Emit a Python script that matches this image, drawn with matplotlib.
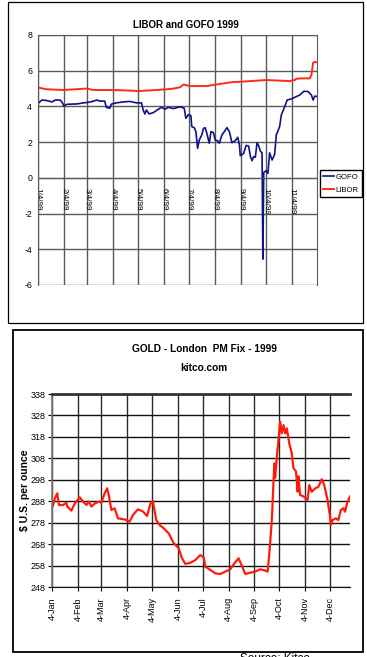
import numpy as np
import matplotlib
matplotlib.use('Agg')
import matplotlib.pyplot as plt
from matplotlib.patches import Rectangle

plt.rcParams['font.family'] = ['Liberation Sans', 'DejaVu Sans']
plt.rcParams['axes.unicode_minus'] = False

W, H = 367, 657

# --- top chart data (day of year 1999) ---
gofo_day = [4, 9, 15, 21, 25, 31, 34, 35, 39, 51, 59, 67, 75, 78, 84, 86, 90, 92, 98, 106,
            114, 122, 128, 130, 132, 134, 137, 142, 148, 152, 156, 160, 166, 174, 179, 181,
            184, 187, 188, 191, 193, 195, 197, 200, 202, 204, 206, 209, 211, 214, 216, 219,
            221, 224, 227, 230, 233, 236, 240, 243, 245, 246, 250, 253, 256, 258, 260, 262,
            264, 266, 268, 270, 272, 273, 274, 277, 279, 281, 284, 287, 289, 293, 295, 299,
            302, 307, 313, 317, 322, 327, 331, 333, 335, 338]
gofo = [4.15, 4.36, 4.33, 4.25, 4.36, 4.35, 4.17, 4.02, 4.12, 4.14, 4.2, 4.25, 4.36, 4.3, 4.3,
        3.95, 3.9, 4.13, 4.2, 4.25, 4.28, 4.2, 4.2, 3.8, 3.58, 3.8, 3.58, 3.65, 3.84, 3.95,
        3.84, 3.95, 3.88, 3.98, 3.9, 3.33, 3.54, 3.48, 2.87, 2.81, 2.59, 1.65, 2.12, 2.4, 2.77,
        2.81, 2.5, 1.94, 2.59, 2.53, 2.12, 2.07, 1.94, 2.4, 2.59, 2.81, 2.59, 1.97, 2.08, 2.27,
        1.84, 1.24, 1.37, 1.82, 1.78, 1.22, 0.96, 1.19, 1.15, 1.97, 1.8, 1.5, 1.4, -4.55, 0.3,
        0.4, 0.25, 1.4, 1.0, 1.3, 2.4, 2.87, 3.52, 3.98, 4.36, 4.42, 4.55, 4.64, 4.85, 4.83,
        4.64, 4.36, 4.58, 4.55]

libor_day = [4, 9, 15, 35, 63, 70, 94, 118, 124, 146, 158, 166, 174, 178, 181, 185, 206, 216,
             238, 246, 277, 305, 311, 313, 319, 329, 331, 333, 335, 338]
libor = [5.07, 5.01, 4.96, 4.92, 5.0, 4.92, 4.92, 4.88, 4.86, 4.92, 4.96, 5.0, 5.07, 5.22, 5.2,
         5.14, 5.14, 5.22, 5.37, 5.38, 5.48, 5.42, 5.48, 5.55, 5.57, 5.57, 5.76, 6.45, 6.5, 6.45]

# --- bottom chart data ---
gold_day = [4, 5, 7, 10, 12, 17, 21, 22, 27, 31, 37, 41, 45, 48, 51, 55, 60, 63, 67, 70, 72, 75,
            79, 83, 91, 97, 101, 107, 113, 118, 122, 125, 129, 133, 138, 144, 150, 156, 160,
            164, 170, 176, 182, 186, 188, 194, 200, 206, 212, 218, 223, 228, 231, 236, 242,
            248, 254, 260, 263, 265, 268, 270, 271, 272, 274, 276, 278, 280, 282, 284, 286,
            289, 292, 294, 297, 299, 300, 302, 306, 311, 313, 316, 320, 324, 328, 331, 335,
            338, 339, 341, 345, 348, 351, 354, 356, 359, 362]
gold = [285.5, 286.3, 289.4, 291.8, 286.3, 286.3, 287.4, 285.6, 283.7, 287.0, 289.9, 287.9,
        286.3, 287.9, 285.6, 287.0, 287.9, 287.4, 291.8, 294.1, 290.8, 284.0, 284.8, 280.1,
        279.6, 278.6, 281.7, 284.3, 283.3, 281.2, 287.0, 288.0, 279.3, 277.0, 275.5, 273.1,
        268.5, 266.2, 261.5, 258.9, 259.4, 260.7, 263.0, 262.0, 257.6, 256.1, 254.5, 254.2,
        255.3, 256.4, 259.2, 261.5, 258.9, 254.2, 254.8, 255.3, 256.4, 255.8, 255.3, 263.8,
        279.3, 297.2, 305.7, 299.0, 308.8, 316.6, 325.1, 319.7, 323.5, 319.7, 322.0, 315.0,
        310.4, 303.4, 302.0, 292.5, 299.7, 291.0, 290.3, 288.7, 295.6, 292.5, 294.0, 294.8,
        298.3, 295.6, 288.7, 280.9, 277.0, 279.3, 280.1, 279.3, 284.0, 284.8, 283.2, 287.9,
        290.3]

months = ['Jan', 'Feb', 'Mar', 'Apr', 'May', 'Jun', 'Jul', 'Aug', 'Sep', 'Oct', 'Nov', 'Dec']
top_labels = [f'{m}/4/99' for m in range(1, 12)]
bottom_labels = [f'4-{m}' for m in months]
gold_ticks = list(range(248, 339, 10))

jan1 = np.datetime64('1999-01-01')
def as_date(days):
    return jan1 + np.array(days) - 1

fourth = [np.datetime64(f'1999-{m:02d}-04') for m in range(1, 13)]

fig = plt.figure(figsize=(W / 100, H / 100), dpi=100)

# panel frames
fig.add_artist(Rectangle((8 / W, 1 - 323 / H), 355 / W, 321 / H, transform=fig.transFigure,
                         fill=False, ec='black', lw=0.9))
fig.add_artist(Rectangle((13 / W, 1 - 652 / H), 350 / W, 322 / H, transform=fig.transFigure,
                         fill=False, ec='black', lw=1.3))

# ---------------- top chart ----------------
ax1 = fig.add_axes([37.7 / W, 1 - 285 / H, 279.6 / W, 250 / H])
ax1.spines['bottom'].set_position(('data', 0))
ax1.plot(as_date(gofo_day), gofo, color='#10108a', lw=1.2, label='GOFO')
ax1.plot(as_date(libor_day), libor, color='#ff2a1a', lw=1.4, label='LIBOR')
ax1.set_xlim(fourth[0], fourth[11])
ax1.set_ylim(-6, 8)
ax1.set_yticks(range(-6, 9, 2))
ax1.set_xticks(fourth[:11])
ax1.set_xticklabels(top_labels, rotation=-90, va='top', ha='center')
ax1.grid(True, color='#5a5a5a', lw=1.0)
ax1.set_axisbelow(True)
for s in ['left', 'right', 'top', 'bottom']:
    ax1.spines[s].set_color('#5a5a5a')
ax1.tick_params(axis='x', length=0, pad=7, labelsize=5.8)
ax1.tick_params(axis='y', length=0, pad=4, labelsize=6.3)
fig.text(186 / W, 1 - 25 / H, 'LIBOR and GOFO 1999', ha='center', va='center',
         fontsize=7, fontweight='bold')
fig.legend(loc='center left', bbox_to_anchor=(319.5 / W, 1 - 183.5 / H), fontsize=5.6,
           frameon=True, fancybox=False, edgecolor='black', framealpha=1,
           handlelength=1.5, handletextpad=0.15, borderpad=0.4, labelspacing=0.7,
           borderaxespad=0)

# ---------------- bottom chart ----------------
ax2 = fig.add_axes([52.3 / W, 1 - 587.3 / H, 297.7 / W, 193.3 / H])
ax2.plot(as_date(gold_day), gold, color='#ff1a0a', lw=1.6)
ax2.set_xlim(fourth[0], np.datetime64('1999-12-28'))
ax2.set_ylim(248, 338)
ax2.set_yticks(gold_ticks)
ax2.set_xticks(fourth)
ax2.set_xticklabels(bottom_labels, rotation=90)
ax2.grid(True, axis='x', color='#2a2a2a', lw=1.0)
ax2.grid(True, axis='y', color='#111111', lw=1.0)
ax2.set_axisbelow(True)
ax2.spines['right'].set_visible(False)
ax2.spines['top'].set_color('#333333')
ax2.spines['top'].set_linewidth(2)
ax2.spines['left'].set_color('#777777')
ax2.spines['left'].set_linewidth(1.2)
ax2.spines['bottom'].set_color('#111111')
ax2.tick_params(axis='x', length=3, pad=4, labelsize=6.5)
ax2.tick_params(axis='y', length=3, pad=2, labelsize=6.5)

fig.text(204 / W, 1 - 349 / H, 'GOLD - London  PM Fix - 1999', ha='center', va='center',
         fontsize=7.3, fontweight='bold')
fig.text(204 / W, 1 - 368 / H, 'kitco.com', ha='center', va='center',
         fontsize=7.3, fontweight='bold')
fig.text(25 / W, 1 - 490 / H, '$ U.S. per ounce', rotation=90, ha='center', va='center',
         fontsize=7.5, fontweight='bold')
fig.text(240 / W, -5.5 / H, 'Source: Kitco', ha='left', va='baseline', fontsize=8.5)

fig.savefig('out.png', dpi=100)
